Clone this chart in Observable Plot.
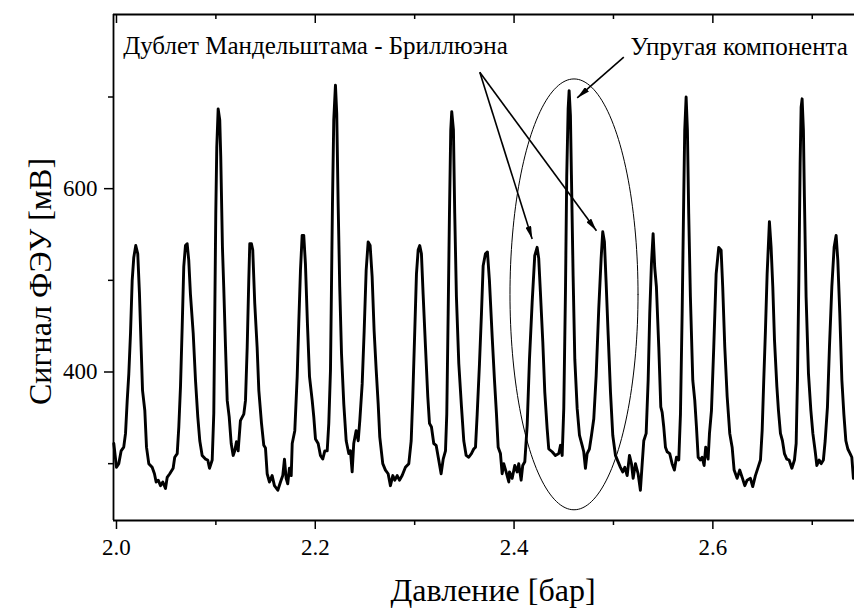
<!DOCTYPE html>
<html>
<head>
<meta charset="utf-8">
<script src="https://cdn.jsdelivr.net/npm/d3@7"></script>
<script src="https://cdn.jsdelivr.net/npm/@observablehq/plot@0.6"></script>
<style>
  html, body { margin: 0; padding: 0; background: #fff; }
  #chart svg { display: block; }
</style>
</head>
<body>
<div id="chart"></div>
<script>
// PMT signal recorded while sweeping the gas pressure (Fabry–Perot scan)
const pressure = [
  1.9973, 2.0000, 2.0023, 2.0047, 2.0073, 2.0091, 2.0108, 2.0124, 2.0141, 2.0158,
  2.0174, 2.0194, 2.0214, 2.0231, 2.0248, 2.0262, 2.0285, 2.0302, 2.0325, 2.0359,
  2.0382, 2.0399, 2.0420, 2.0443, 2.0466, 2.0493, 2.0510, 2.0536, 2.0570, 2.0586,
  2.0611, 2.0627, 2.0644, 2.0661, 2.0677, 2.0694, 2.0711, 2.0727, 2.0744, 2.0772,
  2.0795, 2.0818, 2.0838, 2.0862, 2.0895, 2.0918, 2.0936, 2.0963, 2.0979, 2.0989,
  2.0999, 2.1009, 2.1023, 2.1039, 2.1049, 2.1066, 2.1079, 2.1097, 2.1114, 2.1134,
  2.1154, 2.1174, 2.1190, 2.1207, 2.1224, 2.1247, 2.1281, 2.1298, 2.1315, 2.1331,
  2.1341, 2.1358, 2.1371, 2.1391, 2.1415, 2.1432, 2.1459, 2.1482, 2.1499, 2.1516,
  2.1539, 2.1566, 2.1589, 2.1623, 2.1650, 2.1673, 2.1690, 2.1707, 2.1723, 2.1740,
  2.1758, 2.1768, 2.1794, 2.1818, 2.1834, 2.1851, 2.1868, 2.1884, 2.1901, 2.1921,
  2.1942, 2.1969, 2.1985, 2.2002, 2.2029, 2.2052, 2.2075, 2.2096, 2.2120, 2.2136,
  2.2153, 2.2163, 2.2173, 2.2186, 2.2203, 2.2216, 2.2230, 2.2246, 2.2264, 2.2287,
  2.2311, 2.2337, 2.2354, 2.2371, 2.2387, 2.2411, 2.2432, 2.2448, 2.2472, 2.2492,
  2.2512, 2.2532, 2.2552, 2.2572, 2.2592, 2.2613, 2.2633, 2.2649, 2.2679, 2.2706,
  2.2733, 2.2756, 2.2780, 2.2800, 2.2824, 2.2847, 2.2874, 2.2907, 2.2941, 2.2965,
  2.2981, 2.3001, 2.3018, 2.3035, 2.3051, 2.3068, 2.3085, 2.3109, 2.3132, 2.3149,
  2.3169, 2.3192, 2.3216, 2.3242, 2.3266, 2.3287, 2.3310, 2.3323, 2.3337, 2.3350,
  2.3363, 2.3373, 2.3390, 2.3403, 2.3420, 2.3444, 2.3471, 2.3494, 2.3518, 2.3544,
  2.3571, 2.3594, 2.3612, 2.3629, 2.3652, 2.3672, 2.3689, 2.3712, 2.3732, 2.3752,
  2.3780, 2.3803, 2.3823, 2.3840, 2.3863, 2.3880, 2.3896, 2.3920, 2.3947, 2.3954,
  2.3981, 2.4007, 2.4031, 2.4047, 2.4071, 2.4087, 2.4108, 2.4132, 2.4155, 2.4182,
  2.4208, 2.4232, 2.4248, 2.4265, 2.4289, 2.4309, 2.4333, 2.4349, 2.4383, 2.4416,
  2.4450, 2.4467, 2.4484, 2.4500, 2.4517, 2.4530, 2.4544, 2.4554, 2.4567, 2.4577,
  2.4594, 2.4611, 2.4635, 2.4658, 2.4685, 2.4701, 2.4718, 2.4735, 2.4758, 2.4779,
  2.4802, 2.4826, 2.4852, 2.4876, 2.4892, 2.4909, 2.4926, 2.4947, 2.4970, 2.4993,
  2.5020, 2.5047, 2.5070, 2.5093, 2.5114, 2.5138, 2.5161, 2.5181, 2.5198, 2.5221,
  2.5248, 2.5271, 2.5289, 2.5305, 2.5329, 2.5349, 2.5365, 2.5382, 2.5399, 2.5415,
  2.5432, 2.5456, 2.5476, 2.5490, 2.5506, 2.5523, 2.5540, 2.5566, 2.5590, 2.5613,
  2.5634, 2.5657, 2.5674, 2.5691, 2.5707, 2.5717, 2.5731, 2.5744, 2.5757, 2.5774,
  2.5798, 2.5818, 2.5835, 2.5852, 2.5875, 2.5892, 2.5912, 2.5928, 2.5952, 2.5966,
  2.5986, 2.6009, 2.6033, 2.6059, 2.6083, 2.6099, 2.6120, 2.6144, 2.6170, 2.6194,
  2.6214, 2.6244, 2.6270, 2.6295, 2.6321, 2.6345, 2.6378, 2.6401, 2.6428, 2.6455,
  2.6479, 2.6496, 2.6512, 2.6529, 2.6546, 2.6569, 2.6586, 2.6603, 2.6620, 2.6644,
  2.6660, 2.6680, 2.6700, 2.6720, 2.6744, 2.6767, 2.6795, 2.6821, 2.6838, 2.6851,
  2.6865, 2.6878, 2.6888, 2.6898, 2.6911, 2.6921, 2.6938, 2.6962, 2.6986, 2.7006,
  2.7029, 2.7046, 2.7069, 2.7089, 2.7112, 2.7130, 2.7153, 2.7173, 2.7197, 2.7220,
  2.7240, 2.7257, 2.7277, 2.7298, 2.7318, 2.7338, 2.7358, 2.7381, 2.7398, 2.7414
];
const signal = [
  322, 296, 300, 314, 318, 333, 369, 398, 442, 500,
  525, 538, 529, 486, 427, 380, 358, 318, 300, 296,
  289, 280, 282, 276, 280, 273, 285, 289, 295, 307,
  311, 340, 384, 449, 515, 538, 540, 522, 485, 442,
  391, 351, 325, 309, 305, 304, 295, 304, 355, 464,
  573, 645, 687, 675, 635, 536, 493, 427, 369, 351,
  322, 309, 314, 324, 314, 347, 354, 369, 427, 500,
  540, 540, 533, 475, 427, 380, 344, 320, 317, 289,
  280, 287, 276, 271, 280, 287, 305, 284, 278, 295,
  287, 322, 336, 395, 453, 511, 549, 549, 518, 453,
  395, 369, 351, 327, 322, 309, 305, 314, 314, 344,
  402, 493, 584, 675, 713, 682, 584, 493, 420, 365,
  325, 311, 314, 291, 322, 336, 325, 347, 387, 445,
  511, 542, 538, 504, 445, 402, 365, 329, 300, 293,
  289, 276, 287, 282, 287, 282, 287, 296, 300, 325,
  373, 445, 507, 533, 538, 529, 485, 427, 373, 344,
  340, 322, 320, 304, 289, 305, 314, 354, 464, 573,
  664, 684, 664, 573, 482, 409, 362, 325, 309, 307,
  311, 316, 318, 354, 409, 464, 516, 529, 531, 500,
  438, 391, 354, 318, 311, 289, 300, 291, 280, 291,
  284, 298, 291, 300, 282, 298, 302, 342, 414, 476,
  527, 536, 524, 487, 433, 378, 338, 316, 313, 309,
  311, 320, 309, 360, 487, 615, 687, 707, 680, 615,
  505, 414, 360, 331, 320, 313, 295, 311, 316, 331,
  349, 396, 469, 524, 553, 542, 498, 440, 378, 331,
  309, 302, 296, 291, 296, 287, 309, 300, 284, 300,
  289, 271, 300, 325, 333, 391, 464, 518, 551, 514,
  493, 427, 362, 356, 340, 318, 313, 311, 300, 293,
  307, 304, 354, 464, 591, 664, 700, 664, 573, 482,
  391, 369, 340, 307, 304, 307, 298, 318, 305, 333,
  358, 427, 507, 536, 533, 493, 427, 373, 333, 318,
  293, 284, 293, 285, 276, 282, 284, 275, 287, 296,
  304, 336, 391, 445, 507, 564, 536, 493, 435, 384,
  358, 333, 325, 311, 305, 304, 295, 304, 322, 391,
  500, 627, 689, 698, 664, 591, 482, 398, 358, 333,
  314, 298, 304, 300, 304, 325, 362, 427, 493, 536,
  549, 522, 464, 391, 354, 325, 316, 311, 307, 284
];

// Axis extents and ticks
const xDomain = [1.997, 2.7425];
const yDomain = [238, 790];
const xMajor = [2.0, 2.2, 2.4, 2.6];
const xMinor = [2.1, 2.3, 2.5, 2.7];
const yMajor = [400, 600];
const yMinor = [300, 500, 700];

const xTitle = "Давление [бар]";
const yTitle = "Сигнал ФЭУ [мВ]";

// Annotations
const noteText = ["Дублет Мандельштама - Бриллюэна", "Упругая компонента"];
const noteX = [2.0067, 2.5171];
const noteY = [756, 755];

const arrowFromX = [2.3655, 2.3655, 2.5104];
const arrowFromY = [727, 727, 743.5];
const arrowToX = [2.4182, 2.4829, 2.4635];
const arrowToY = [545, 554, 699];

// Oval around one doublet + elastic line group
const ovalCenter = [2.4603, 484.7];
const ovalRadius = [0.0644, 235];

const rows = pressure.map((p, i) => ({p, s: signal[i]}));
const notes = noteText.map((t, i) => ({t, x: noteX[i], y: noteY[i]}));
const arrows = arrowFromX.map((_, i) => ({x1: arrowFromX[i], y1: arrowFromY[i], x2: arrowToX[i], y2: arrowToY[i]}));
const oval = d3.range(0, 361, 2).map(a => {
  const t = a * Math.PI / 180;
  return {x: ovalCenter[0] + ovalRadius[0] * Math.cos(t), y: ovalCenter[1] + ovalRadius[1] * Math.sin(t)};
});

const W = 854, H = 613;
const mTop = 14, mBottom = 93, mLeft = 113, mRight = 0;
const innerH = H - mTop - mBottom;
const serif = '"Liberation Serif", "Times New Roman", Times, serif';

const plot = Plot.plot({
  width: W,
  height: H,
  marginTop: mTop,
  marginBottom: mBottom,
  marginLeft: mLeft,
  marginRight: mRight,
  style: {fontFamily: serif, fontSize: "23px", color: "#000", background: "#fff", overflow: "visible"},
  x: {domain: xDomain},
  y: {domain: yDomain},
  marks: [
    Plot.line(rows, {x: "p", y: "s", stroke: "#000", strokeWidth: 2.9, strokeLinejoin: "round"}),
    Plot.line(oval, {x: "x", y: "y", stroke: "#000", strokeWidth: 1}),
    Plot.link(arrows, {x1: "x1", y1: "y1", x2: "x2", y2: "y2", stroke: "#000", strokeWidth: 1.6}),
    Plot.text(notes, {x: "x", y: "y", text: "t", textAnchor: "start", lineAnchor: "middle", fontFamily: serif, fontSize: 25, fill: "#000"}),
    // frame: left, bottom, top
    Plot.ruleX([xDomain[0]], {stroke: "#000", strokeWidth: 1.8}),
    Plot.ruleY([yDomain[0], yDomain[1]], {stroke: "#000", strokeWidth: 1.8}),
    // inward ticks on the top edge
    Plot.ruleX(xMajor, {x: d => d, insetBottom: innerH - 9, stroke: "#000", strokeWidth: 1.5}),
    Plot.ruleX(xMinor, {x: d => d, insetBottom: innerH - 5, stroke: "#000", strokeWidth: 1.5}),
    Plot.axisX({ticks: xMajor, tickSize: 9, tickPadding: 9, tickFormat: d3.format(".1f"), strokeWidth: 1.5, fontFamily: serif, fontSize: 23, label: null}),
    Plot.axisX({ticks: xMinor, tickSize: 5, tickFormat: () => "", strokeWidth: 1.5, label: null}),
    Plot.axisY({ticks: yMajor, tickSize: 9, tickPadding: 7, tickFormat: d3.format("d"), strokeWidth: 1.5, fontFamily: serif, fontSize: 23, label: null}),
    Plot.axisY({ticks: yMinor, tickSize: 5, tickFormat: () => "", strokeWidth: 1.5, label: null}),
    Plot.text([xTitle], {text: d => d, frameAnchor: "bottom", textAnchor: "middle", dx: 9, dy: 70, lineAnchor: "middle", fontFamily: serif, fontSize: 32, fill: "#000"}),
    Plot.text([yTitle], {text: d => d, frameAnchor: "left", textAnchor: "middle", dx: -73, dy: 14, rotate: -90, lineAnchor: "middle", fontFamily: serif, fontSize: 32, fill: "#000"})
  ]
});

// filled arrowheads on the annotation pointers
const svg = d3.select(plot);
svg.insert("defs", ":first-child")
  .append("marker")
  .attr("id", "pointer-head")
  .attr("viewBox", "0 0 13 6")
  .attr("refX", 13)
  .attr("refY", 3)
  .attr("markerWidth", 13)
  .attr("markerHeight", 6)
  .attr("markerUnits", "userSpaceOnUse")
  .attr("orient", "auto")
  .append("path")
  .attr("d", "M0,0L13,3L0,6Z")
  .attr("fill", "#000");
svg.selectAll('g[aria-label="link"] path').attr("marker-end", "url(#pointer-head)");

document.getElementById("chart").appendChild(plot);
</script>
</body>
</html>
